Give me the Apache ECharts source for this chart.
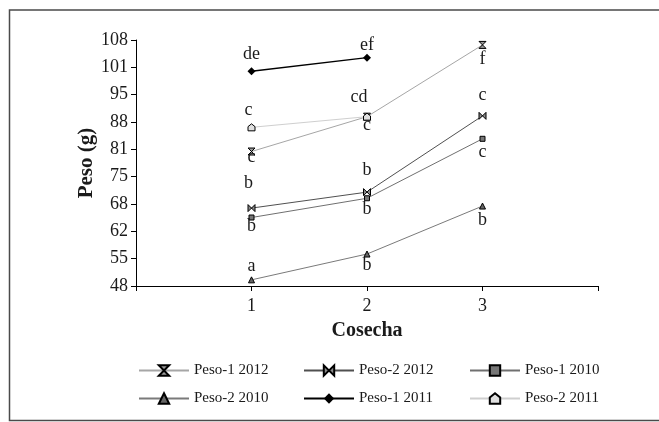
<!DOCTYPE html>
<html>
<head>
<meta charset="utf-8">
<script src="https://cdn.jsdelivr.net/npm/echarts@6/dist/echarts.min.js"></script>
<style>
html,body{margin:0;padding:0;background:#fff;}
#chart{width:659px;height:422px;}
</style>
</head>
<body>
<div id="chart"></div>
<script>
// ---- data ----
var cosecha = [1, 2, 3];
var yTickLabels = ['48', '55', '62', '68', '75', '81', '88', '95', '101', '108'];
var yMin = 48, yMax = 108;

var peso1_2012 = [80.8, 89.3, 106.8];
var peso2_2012 = [67.0, 70.9, 89.5];
var peso1_2010 = [64.7, 69.4, 83.9];
var peso2_2010 = [49.5, 55.8, 67.5];
var peso1_2011 = [100.4, 103.7];
var peso2_2011 = [86.7, 89.3];

var letras1_2012 = ['c', 'c', 'f'];
var letras2_2012 = ['b', 'b', 'c'];
var letras1_2010 = ['b', 'b', 'c'];
var letras2_2010 = ['a', 'b', 'b'];
var letras1_2011 = ['de', 'ef'];
var letras2_2011 = ['c', 'cd'];

// ---- layout of the letter labels (pixel offsets from the marker) ----
var off1_2012 = [[0, 5.5], [0, 9], [0, 14]];
var off2_2012 = [[-3, -25], [0, -22], [0, -21]];
var off1_2010 = [[0, 9], [0, 11.5], [0, 13.5]];
var off2_2010 = [[0, -14], [0, 11], [0, 14]];
var off1_2011 = [[0, -17], [0, -12]];
var off2_2011 = [[-3, -17], [-8, -19]];

var FONT = 'Liberation Serif';
var HOURGLASS = 'path://M0,0L10,0L0,10L10,10Z';
var BOWTIE = 'path://M0,0L0,10L10,0L10,10Z';
var HOUSE = 'path://M5,0L10,4L10,10L0,10L0,4Z';

function buildData(values, letters, offsets) {
  return values.map(function (v, i) {
    return {
      value: [cosecha[i], v],
      label: {
        show: true,
        formatter: letters[i],
        position: 'inside',
        offset: offsets[i]
      }
    };
  });
}

function mkSeries(name, values, letters, offsets, opts) {
  return {
    name: name,
    type: 'line',
    data: buildData(values, letters, offsets),
    symbol: opts.symbol,
    symbolSize: opts.size,
    showSymbol: true,
    animation: false,
    lineStyle: { color: opts.line, width: opts.width || 1 },
    itemStyle: { color: opts.fill, borderColor: '#000', borderWidth: opts.bw == null ? 1 : opts.bw },
    label: {
      color: '#1a1a1a',
      fontFamily: FONT,
      fontSize: 18,
      align: 'center',
      verticalAlign: 'middle'
    },
    emphasis: { disabled: true },
    z: opts.z || 2
  };
}

var yStep = (yMax - yMin) / (yTickLabels.length - 1);
var yTickValues = yTickLabels.map(function (_, i) { return yMin + i * yStep; });

var chart = echarts.init(document.getElementById('chart'), null, { renderer: 'canvas' });

function legendCol(left, names) {
  return {
    orient: 'vertical',
    left: left,
    top: 363,
    padding: 0,
    itemWidth: 50,
    itemHeight: 13,
    itemGap: 13,
    data: names,
    selectedMode: false,
    textStyle: { fontFamily: FONT, fontSize: 15, color: '#1a1a1a' }
  };
}

var option = {
  backgroundColor: '#fff',
  animation: false,
  textStyle: { fontFamily: FONT },
  graphic: [{
    type: 'rect',
    shape: { x: 9.5, y: 10, width: 680, height: 410.5 },
    style: { fill: 'none', stroke: '#4a4a4a', lineWidth: 1.5 },
    silent: true
  }],
  grid: { left: 136, right: 61, top: 40, bottom: 136, containLabel: false },
  legend: [
    legendCol(138, ['Peso-1 2012', 'Peso-2 2010']),
    legendCol(303, ['Peso-2 2012', 'Peso-1 2011']),
    legendCol(469, ['Peso-1 2010', 'Peso-2 2011'])
  ],
  xAxis: {
    type: 'value',
    min: 0,
    max: 4,
    interval: 1,
    name: 'Cosecha',
    nameLocation: 'middle',
    nameGap: 35,
    nameMoveOverlap: false,
    nameTextStyle: { fontFamily: FONT, fontSize: 20, fontWeight: 'bold', color: '#1a1a1a' },
    axisLine: { show: true, lineStyle: { color: '#000', width: 1 } },
    axisTick: { show: true, length: 5, lineStyle: { color: '#000' } },
    splitLine: { show: false },
    axisLabel: {
      margin: 11,
      fontFamily: FONT,
      fontSize: 18,
      color: '#1a1a1a',
      formatter: function (v) { return cosecha.indexOf(v) >= 0 ? String(v) : ''; }
    }
  },
  yAxis: {
    type: 'value',
    min: yMin,
    max: yMax,
    name: 'Peso (g)',
    nameLocation: 'middle',
    nameGap: 39,
    nameMoveOverlap: false,
    nameTextStyle: { fontFamily: FONT, fontSize: 21, fontWeight: 'bold', color: '#1a1a1a' },
    axisLine: { show: true, lineStyle: { color: '#000', width: 1 } },
    axisTick: { show: true, length: 5, lineStyle: { color: '#000' }, customValues: yTickValues },
    splitLine: { show: false },
    axisLabel: {
      margin: 8,
      fontFamily: FONT,
      fontSize: 18,
      color: '#1a1a1a',
      customValues: yTickValues,
      formatter: function (v) {
        var i = Math.round((v - yMin) / yStep);
        return yTickLabels[i];
      }
    }
  },
  series: [
    mkSeries('Peso-1 2012', peso1_2012, letras1_2012, off1_2012, { symbol: HOURGLASS, size: 7, line: '#a6a6a6', fill: '#9a9a9a' }),
    mkSeries('Peso-2 2012', peso2_2012, letras2_2012, off2_2012, { symbol: BOWTIE, size: 7, line: '#505050', fill: '#8a8a8a' }),
    mkSeries('Peso-1 2010', peso1_2010, letras1_2010, off1_2010, { symbol: 'rect', size: 5, line: '#707070', fill: '#777777' }),
    mkSeries('Peso-2 2010', peso2_2010, letras2_2010, off2_2010, { symbol: 'triangle', size: 6, line: '#7a7a7a', fill: '#666666' }),
    mkSeries('Peso-1 2011', peso1_2011, letras1_2011, off1_2011, { symbol: 'diamond', size: 8, line: '#000000', fill: '#000000', width: 1.5, bw: 0, z: 3 }),
    mkSeries('Peso-2 2011', peso2_2011, letras2_2011, off2_2011, { symbol: HOUSE, size: 7, line: '#cfcfcf', fill: '#e0e0e0' })
  ]
};

chart.setOption(option);
</script>
</body>
</html>
